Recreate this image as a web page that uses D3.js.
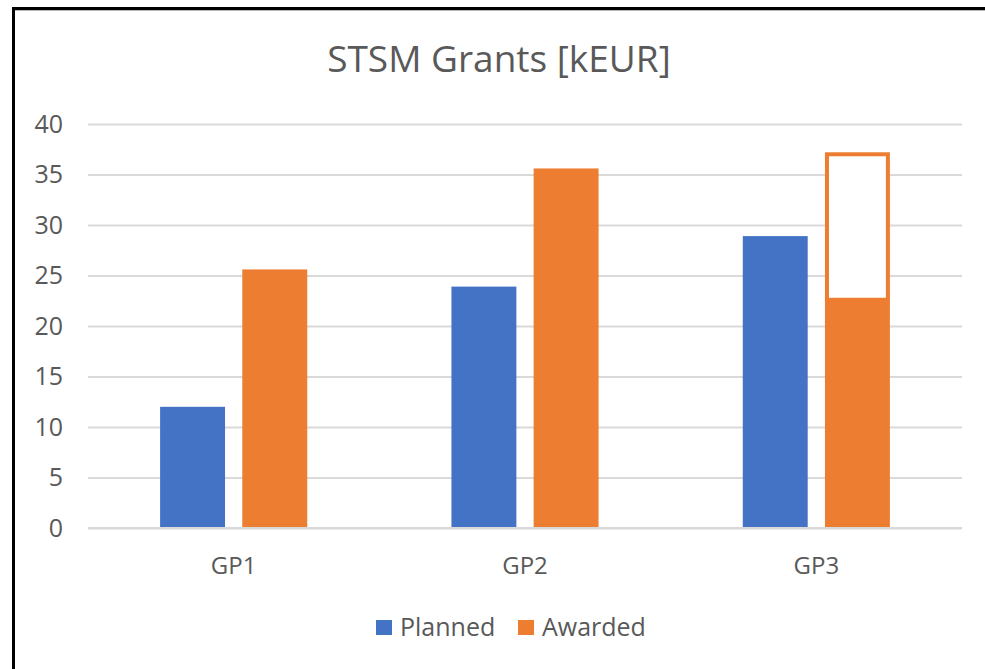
<!DOCTYPE html>
<html><head><meta charset="utf-8">
<script src="https://cdn.jsdelivr.net/npm/d3@7"></script>
<style>
html,body{margin:0;padding:0;background:#fff;overflow:hidden}
text{font-family:"Open Sans","Noto Sans",sans-serif;fill:#595959}
</style></head>
<body><svg id="c" width="985" height="669"></svg>
<script>
const categories = ["GP1", "GP2", "GP3"];
const seriesNames = ["Planned", "Awarded"];
const planned = [12.0, 23.9, 28.9];
const awarded = [25.6, 35.6, 22.6];
const awardedOutline = [null, null, 37.2];
const yTicks = [0, 5, 10, 15, 20, 25, 30, 35, 40];
const colors = ["#4472C4", "#ED7D31"];

const svg = d3.select("#c");

// outer frame (only left and top visible)
svg.append("rect").attr("x", 13.5).attr("y", 8.5).attr("width", 1200).attr("height", 1200)
  .attr("fill", "none").attr("stroke", "#000").attr("stroke-width", 3);
svg.append("line").attr("x1", 15).attr("x2", 985).attr("y1", 10.5).attr("y2", 10.5)
  .attr("stroke", "#bbb").attr("stroke-width", 1);

const y = d3.scaleLinear().domain([0, 40]).range([528, 124]);
const x0 = d3.scaleBand().domain(categories).range([88, 962]).paddingInner(0.495).paddingOuter(0.2475);
const x1 = d3.scaleBand().domain(seriesNames).range([0, x0.bandwidth()]).paddingInner(0.21);

// gridlines
const yAxis = d3.axisLeft(y).tickValues(yTicks).tickSize(-(962 - 88)).tickPadding(25);
const gy = svg.append("g").attr("transform", "translate(88,0)").call(yAxis);
gy.select(".domain").remove();
gy.selectAll(".tick line").attr("stroke", "#d9d9d9").attr("stroke-width", 2);
gy.selectAll(".tick text").attr("font-size", 25).style("fill", "#595959")
  .attr("font-family", '"Open Sans","Noto Sans",sans-serif');

// bars
const data = categories.map((c, i) => ({c, vals: [planned[i], awarded[i]]}));
const g = svg.append("g");
data.forEach(d => {
  d.vals.forEach((v, j) => {
    g.append("rect")
      .attr("x", x0(d.c) + x1(seriesNames[j]))
      .attr("y", y(v))
      .attr("width", x1.bandwidth())
      .attr("height", y(0) - y(v))
      .attr("fill", colors[j]);
  });
});
// outlined part of awarded
categories.forEach((c, i) => {
  const v = awardedOutline[i];
  if (v == null) return;
  const sw = 4;
  g.append("rect")
    .attr("x", x0(c) + x1("Awarded") + sw / 2)
    .attr("y", y(v) + sw / 2)
    .attr("width", x1.bandwidth() - sw)
    .attr("height", y(awarded[i]) - y(v) - sw / 2)
    .attr("fill", "#fff").attr("stroke", colors[1]).attr("stroke-width", sw);
});

// x category labels
const xAxis = d3.axisBottom(x0).tickSize(0).tickPadding(0);
const gx = svg.append("g").attr("transform", "translate(0,528)").call(xAxis);
gx.select(".domain").remove();
gx.selectAll(".tick text").attr("font-size", 24).attr("dy", null).attr("y", 46)
  .style("fill", "#595959").attr("font-family", '"Open Sans","Noto Sans",sans-serif');

// gridline at zero over bars' bottom
svg.append("line").attr("x1", 88).attr("x2", 962).attr("y1", y(0)).attr("y2", y(0))
  .attr("stroke", "#d9d9d9").attr("stroke-width", 2);

// title
svg.append("text").attr("x", 499).attr("y", 72).attr("text-anchor", "middle")
  .attr("font-size", 37).text("STSM Grants [kEUR]");

// legend
const legendX = [376, 518];
seriesNames.forEach((s, j) => {
  svg.append("rect").attr("x", legendX[j]).attr("y", 620).attr("width", 16).attr("height", 15)
    .attr("fill", colors[j]);
  svg.append("text").attr("x", legendX[j] + 24).attr("y", 636).attr("font-size", 25).text(s);
});
</script></body></html>
